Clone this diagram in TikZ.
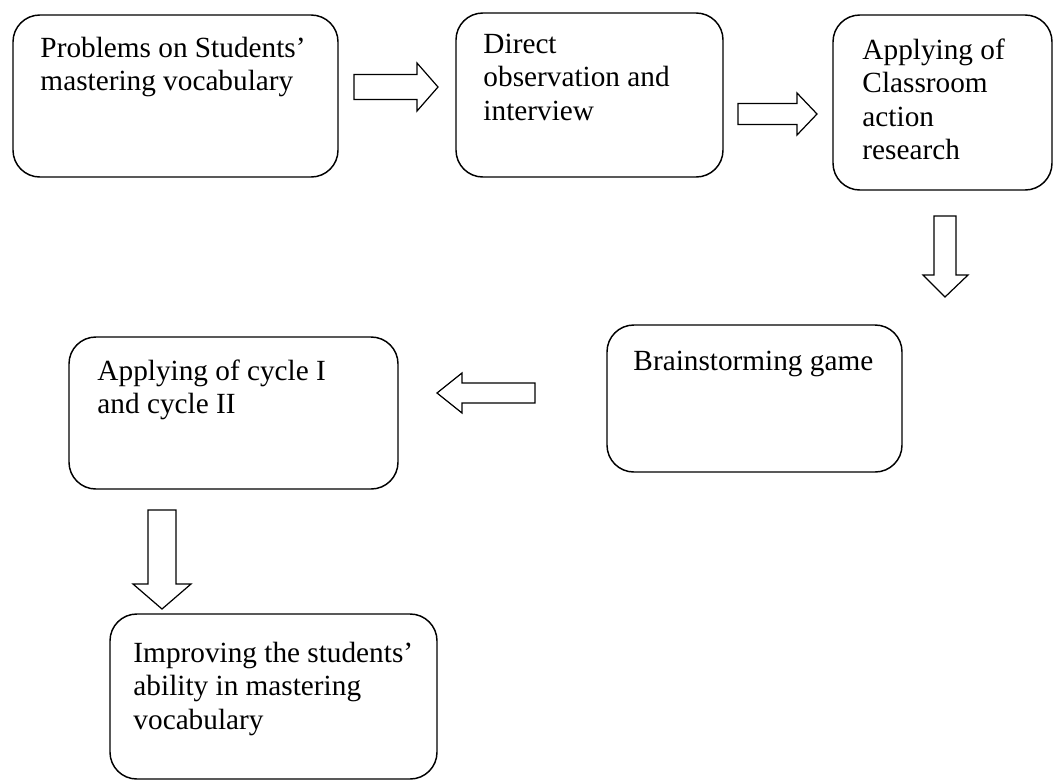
\documentclass[tikz,border=0pt]{standalone}
\usepackage{fontspec}
\setmainfont{Liberation Serif}
\usetikzlibrary{fit}
\tikzset{
  box/.style={draw, line width=0.6pt, rounded corners=11pt, inner sep=0pt},
  txt/.style={anchor=base west, inner sep=0pt, font=\fontsize{12}{13.8}\selectfont},
  blockarrow/.style={draw, line width=0.5pt, line join=miter},
}
\newcommand{\boxtext}[1]{\parbox[t]{150pt}{\raggedright #1}}
\begin{document}
\begin{tikzpicture}[x=0.41pt,y=-0.41pt]
\useasboundingbox (0,0) rectangle (1054,780);
% boxes
\node[box, fit={(13,15) (338,177)}] (b1) {};
\node[box, fit={(456,13) (723,177)}] (b2) {};
\node[box, fit={(833,15) (1052,190)}] (b3) {};
\node[box, fit={(607,325) (902,472)}] (b4) {};
\node[box, fit={(69,337) (398,489)}] (b5) {};
\node[box, fit={(110,614) (437,779)}] (b6) {};
% texts
\node[txt] (t1) at (40,57) {\boxtext{Problems on Students'\\mastering vocabulary}};
\node[txt] (t2) at (483,53) {\boxtext{Direct\\observation and\\interview}};
\node[txt] (t3) at (862,59) {\boxtext{Applying of\\Classroom\\action\\research}};
\node[txt] (t4) at (633,370) {\boxtext{Brainstorming game}};
\node[txt] (t5) at (97,380) {\boxtext{Applying of cycle I\\and cycle II}};
\node[txt] (t6) at (133,662) {\boxtext{Improving the students'\\ability in mastering\\vocabulary}};
% block arrows
\draw[blockarrow] (354,74.5) -- (417,74.5) -- (417,63) -- (438,87) -- (417,111) -- (417,99.5) -- (354,99.5) -- cycle;
\draw[blockarrow] (738,103.5) -- (797,103.5) -- (797,93) -- (817,114) -- (797,135) -- (797,124.5) -- (738,124.5) -- cycle;
\draw[blockarrow] (934,216) -- (956,216) -- (956,275) -- (968,275) -- (945,297) -- (923,275) -- (934,275) -- cycle;
\draw[blockarrow] (535,383) -- (462,383) -- (462,373) -- (437,393) -- (462,413) -- (462,403) -- (535,403) -- cycle;
\draw[blockarrow] (148,510) -- (176,510) -- (176,584) -- (191,584) -- (162,609) -- (133,584) -- (148,584) -- cycle;
\end{tikzpicture}
\end{document}
